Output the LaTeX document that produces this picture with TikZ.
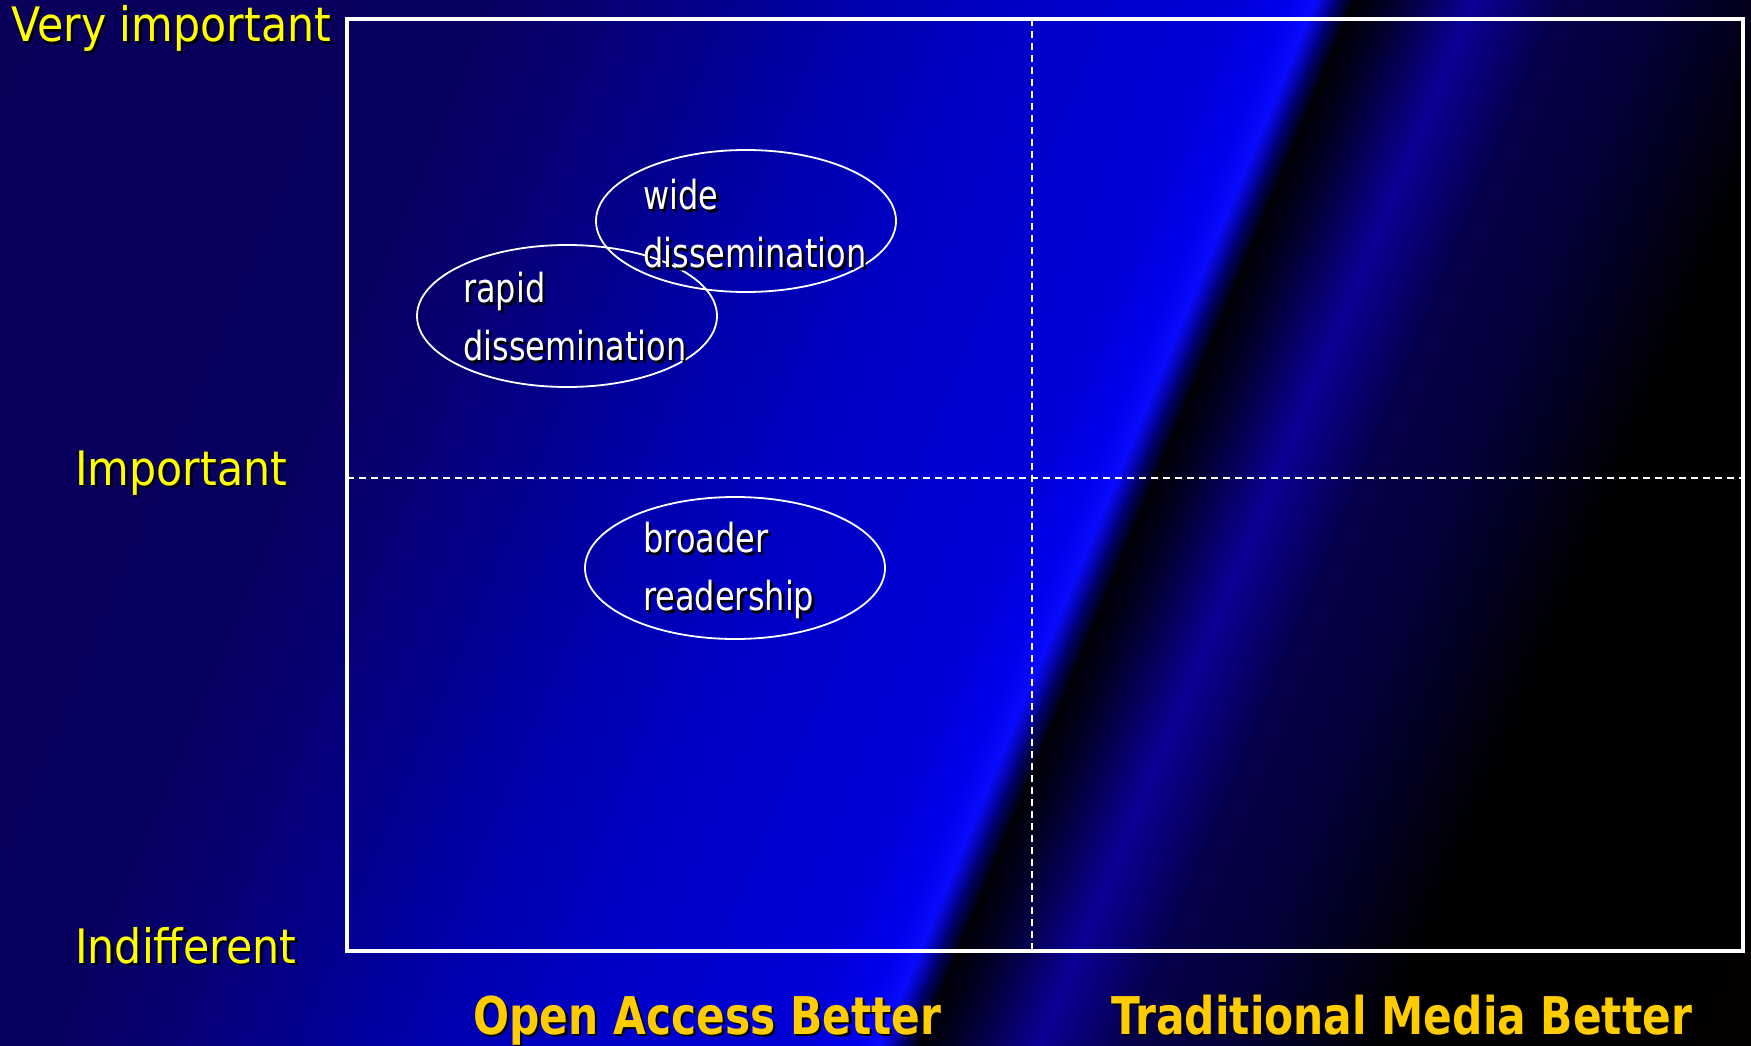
\documentclass[tikz,border=0pt]{standalone}
\usepackage{fontspec}
\setmainfont{DejaVu Sans}
\newfontfamily\labelfont[FakeStretch=0.9]{DejaVu Sans}
\newfontfamily\bubblefont[FakeStretch=0.8]{DejaVu Sans}
\newfontfamily\axisfont[FakeStretch=0.815]{DejaVu Sans}
\usetikzlibrary{shapes.geometric}

\definecolor{labelyellow}{RGB}{255,255,0}
\definecolor{axisgold}{RGB}{255,204,0}
% ocean background
\definecolor{oc0}{RGB}{10,0,90}
\definecolor{oc1}{RGB}{8,0,95}
\definecolor{oc2}{RGB}{5,0,130}
\definecolor{oc3}{RGB}{0,0,175}
\definecolor{oc4}{RGB}{0,0,200}
\definecolor{oc5}{RGB}{0,0,215}
\definecolor{oc6}{RGB}{0,0,235}
\definecolor{oc7}{RGB}{10,10,255}
\definecolor{oc8}{RGB}{0,0,120}
\definecolor{oc9}{RGB}{0,0,5}
\definecolor{oc10}{RGB}{2,0,40}
\definecolor{oc11}{RGB}{10,0,150}
\definecolor{oc12}{RGB}{5,0,75}
\definecolor{oc13}{RGB}{4,0,55}
\definecolor{oc14}{RGB}{0,0,0}
\definecolor{oc15}{RGB}{5,0,0}

\newcommand{\shadowed}[1]{\makebox[0pt][l]{\hspace{2.5pt}\raisebox{-2.5pt}{\color{black}#1}}#1}

\tikzset{
	levellabel/.style={anchor=base west, inner sep=0pt, text=labelyellow, font=\labelfont\fontsize{47.5}{50}\selectfont},
	sidelabel/.style={anchor=base west, inner sep=0pt, text=axisgold, font=\axisfont\bfseries\fontsize{52}{56}\selectfont},
	bubble/.style={ellipse, draw=white, line width=1.8pt, minimum width=300pt, minimum height=142pt, inner sep=0pt},
	bubbletext/.style={anchor=north west, inner sep=0pt, align=left, text=white, font=\bubblefont\fontsize{40}{58}\selectfont},
	quadline/.style={white, line width=1.5pt, dash pattern=on 7pt off 5pt},
}

\begin{document}
\begin{tikzpicture}[x=1pt,y=-1pt]
\useasboundingbox (0,0) rectangle (1751,1046);
% Background
\begin{scope}
	\clip (0,0) rectangle (1751,1046);
	\begin{scope}[transform canvas={rotate=-22.6}]
		\foreach \ua/\ub/\ca/\cb in {0/450/oc0/oc1, 450/620/oc1/oc2, 620/800/oc2/oc3, 800/950/oc3/oc4,
			950/1135/oc4/oc5, 1135/1190/oc5/oc6, 1190/1215/oc6/oc7, 1215/1233/oc7/oc8, 1233/1250/oc8/oc9,
			1250/1285/oc9/oc10, 1285/1360/oc10/oc11, 1360/1440/oc11/oc12, 1440/1540/oc12/oc13,
			1540/1680/oc13/oc14, 1680/2100/oc14/oc15}{
			\shade[left color=\ca, right color=\cb] (\ua-1,-720) rectangle (\ub+1,1020);
		}
	\end{scope}
\end{scope}

% Quadrant frame
\coordinate (nw) at (347,19);
\coordinate (se) at (1743,951);
\coordinate (midtop) at (1032,19);
\coordinate (midbot) at (1032,951);
\coordinate (midleft) at (347,478);
\coordinate (midright) at (1743,478);
\draw [quadline] (midtop)--(midbot);
\draw [quadline] (midleft)--(midright);
\draw [white, line width=4.5pt] (nw) rectangle (se);

% Importance levels
\node[levellabel] (veryimp) at (11,42) {\shadowed{Very important}};
\node[levellabel] (imp) at (75,485) {\shadowed{Important}};
\node[levellabel] (indiff) at (75,963) {\shadowed{Indifferent}};

% Media sides
\node[sidelabel] (oabetter) at (473,1034) {\shadowed{Open Access Better}};
\node[sidelabel] (tmbetter) at (1111,1034) {\shadowed{Traditional Media Better}};

% Bubbles
\node[bubble] (rapid) at (567,316) {};
\node[bubble] (wide) at (746,221) {};
\node[bubble] (broader) at (735,568) {};
\node[bubbletext] (widetxt) at (643,179) {\shadowed{wide}\\\shadowed{dissemination}};
\node[bubbletext] (rapidtxt) at (463,272) {\shadowed{rapid}\\\shadowed{dissemination}};
\node[bubbletext] (broadertxt) at (643,522) {\shadowed{broader}\\\shadowed{readership}};
\end{tikzpicture}
\end{document}
